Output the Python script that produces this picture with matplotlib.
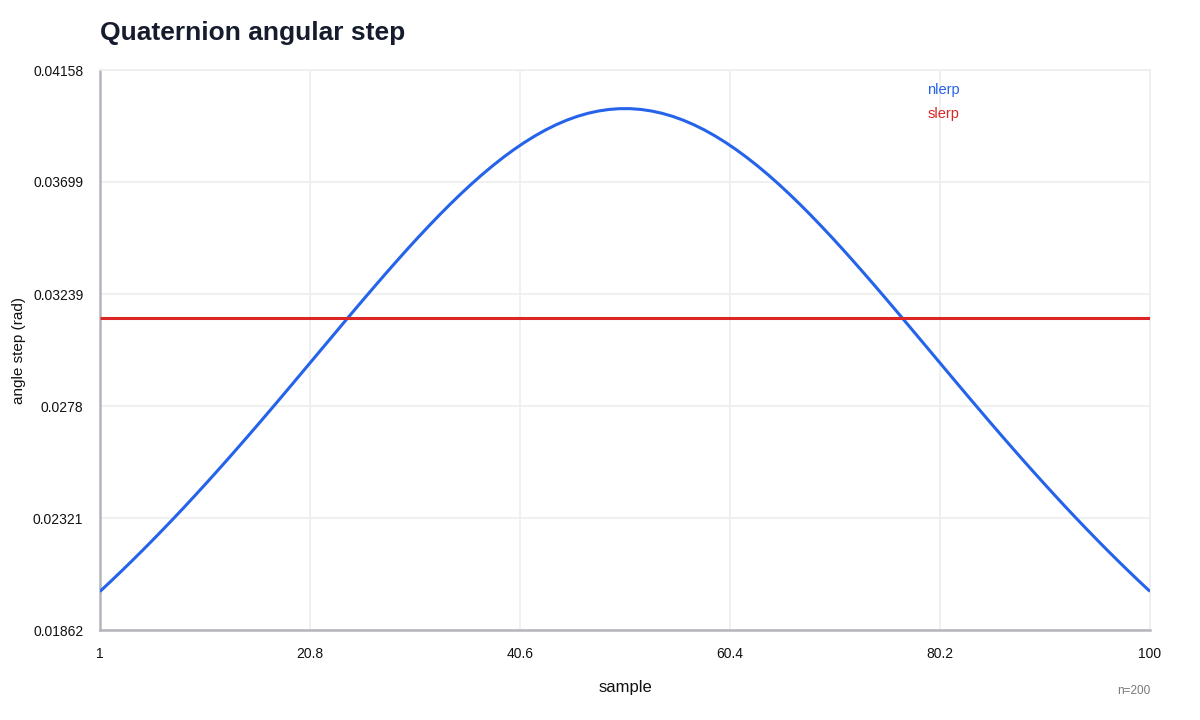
import matplotlib
matplotlib.use("Agg")
import matplotlib.pyplot as plt

plt.rcParams["font.family"] = ["Liberation Sans", "DejaVu Sans"]

# amostras 1..100
samples = list(range(1, 101))

# passo angular nlerp (rad)
nlerp_half = [
    0.020201, 0.020609, 0.021025, 0.021449, 0.021881, 0.022320, 0.022768, 0.023222, 0.023684, 0.024154,
    0.024630, 0.025112, 0.025600, 0.026095, 0.026594, 0.027098, 0.027607, 0.028119, 0.028635, 0.029153,
    0.029672, 0.030191, 0.030710, 0.031228, 0.031743, 0.032255, 0.032762, 0.033264, 0.033758, 0.034244,
    0.034719, 0.035182, 0.035634, 0.036071, 0.036492, 0.036896, 0.037282, 0.037646, 0.037989, 0.038309,
    0.038605, 0.038875, 0.039119, 0.039334, 0.039521, 0.039678, 0.039804, 0.039899, 0.039963, 0.039995,
]
nlerp = nlerp_half + nlerp_half[::-1]

# passo angular slerp (constante)
slerp = [
    0.031416, 0.031416, 0.031416, 0.031416, 0.031416, 0.031416, 0.031416, 0.031416, 0.031416, 0.031416,
    0.031416, 0.031416, 0.031416, 0.031416, 0.031416, 0.031416, 0.031416, 0.031416, 0.031416, 0.031416,
    0.031416, 0.031416, 0.031416, 0.031416, 0.031416, 0.031416, 0.031416, 0.031416, 0.031416, 0.031416,
    0.031416, 0.031416, 0.031416, 0.031416, 0.031416, 0.031416, 0.031416, 0.031416, 0.031416, 0.031416,
    0.031416, 0.031416, 0.031416, 0.031416, 0.031416, 0.031416, 0.031416, 0.031416, 0.031416, 0.031416,
    0.031416, 0.031416, 0.031416, 0.031416, 0.031416, 0.031416, 0.031416, 0.031416, 0.031416, 0.031416,
    0.031416, 0.031416, 0.031416, 0.031416, 0.031416, 0.031416, 0.031416, 0.031416, 0.031416, 0.031416,
    0.031416, 0.031416, 0.031416, 0.031416, 0.031416, 0.031416, 0.031416, 0.031416, 0.031416, 0.031416,
    0.031416, 0.031416, 0.031416, 0.031416, 0.031416, 0.031416, 0.031416, 0.031416, 0.031416, 0.031416,
    0.031416, 0.031416, 0.031416, 0.031416, 0.031416, 0.031416, 0.031416, 0.031416, 0.031416, 0.031416,
]

x_ticks = [1, 20.8, 40.6, 60.4, 80.2, 100]
x_tick_labels = ["1", "20.8", "40.6", "60.4", "80.2", "100"]
y_ticks = [0.01862, 0.02321, 0.0278, 0.03239, 0.03699, 0.04158]
y_tick_labels = ["0.01862", "0.02321", "0.0278", "0.03239", "0.03699", "0.04158"]

CORES = {"nlerp": "#2563eb", "slerp": "#dc2626"}
GRADE = "#eeeeee"
EIXO = "#b4b4bc"

fig = plt.figure(figsize=(12, 7.2), dpi=100)
ax = fig.add_axes([100 / 1200, 90 / 720, 1050 / 1200, 560 / 720])

ax.plot(samples, nlerp, color=CORES["nlerp"], linewidth=2.2, solid_capstyle="butt", zorder=3)
ax.plot(samples, slerp, color=CORES["slerp"], linewidth=2.2, solid_capstyle="butt", zorder=3)

ax.set_xlim(1, 100)
ax.set_ylim(y_ticks[0], y_ticks[-1])
ax.set_xticks(x_ticks)
ax.set_xticklabels(x_tick_labels)
ax.set_yticks(y_ticks)
ax.set_yticklabels(y_tick_labels)
ax.tick_params(length=0, labelsize=10, colors="#111111")
ax.tick_params(axis="x", pad=12)
ax.tick_params(axis="y", pad=12)

ax.grid(True, color=GRADE, linewidth=1.2, zorder=0)
for lado in ["top", "right"]:
    ax.spines[lado].set_color(GRADE)
    ax.spines[lado].set_linewidth(1.2)
for lado in ["left", "bottom"]:
    ax.spines[lado].set_color(EIXO)
    ax.spines[lado].set_linewidth(1.8)

ax.set_xlabel("sample", fontsize=12, labelpad=14, color="#111111")
ax.set_ylabel("angle step (rad)", fontsize=11, labelpad=5, color="#111111")

# legenda só com texto colorido
ax.text(0.788, 0.964, "nlerp", transform=ax.transAxes, color=CORES["nlerp"],
        fontsize=10.5, va="center", ha="left")
ax.text(0.788, 0.921, "slerp", transform=ax.transAxes, color=CORES["slerp"],
        fontsize=10.5, va="center", ha="left")

fig.text(100 / 1200, 1 - 33 / 720, "Quaternion angular step", fontsize=19,
         fontweight="bold", color="#161c2d", va="center", ha="left")
fig.text(1150 / 1200, 1 - 691 / 720, "n=200", fontsize=8.5, color="#777777",
         va="center", ha="right")

fig.savefig("out.png", dpi=100)
plt.close(fig)
